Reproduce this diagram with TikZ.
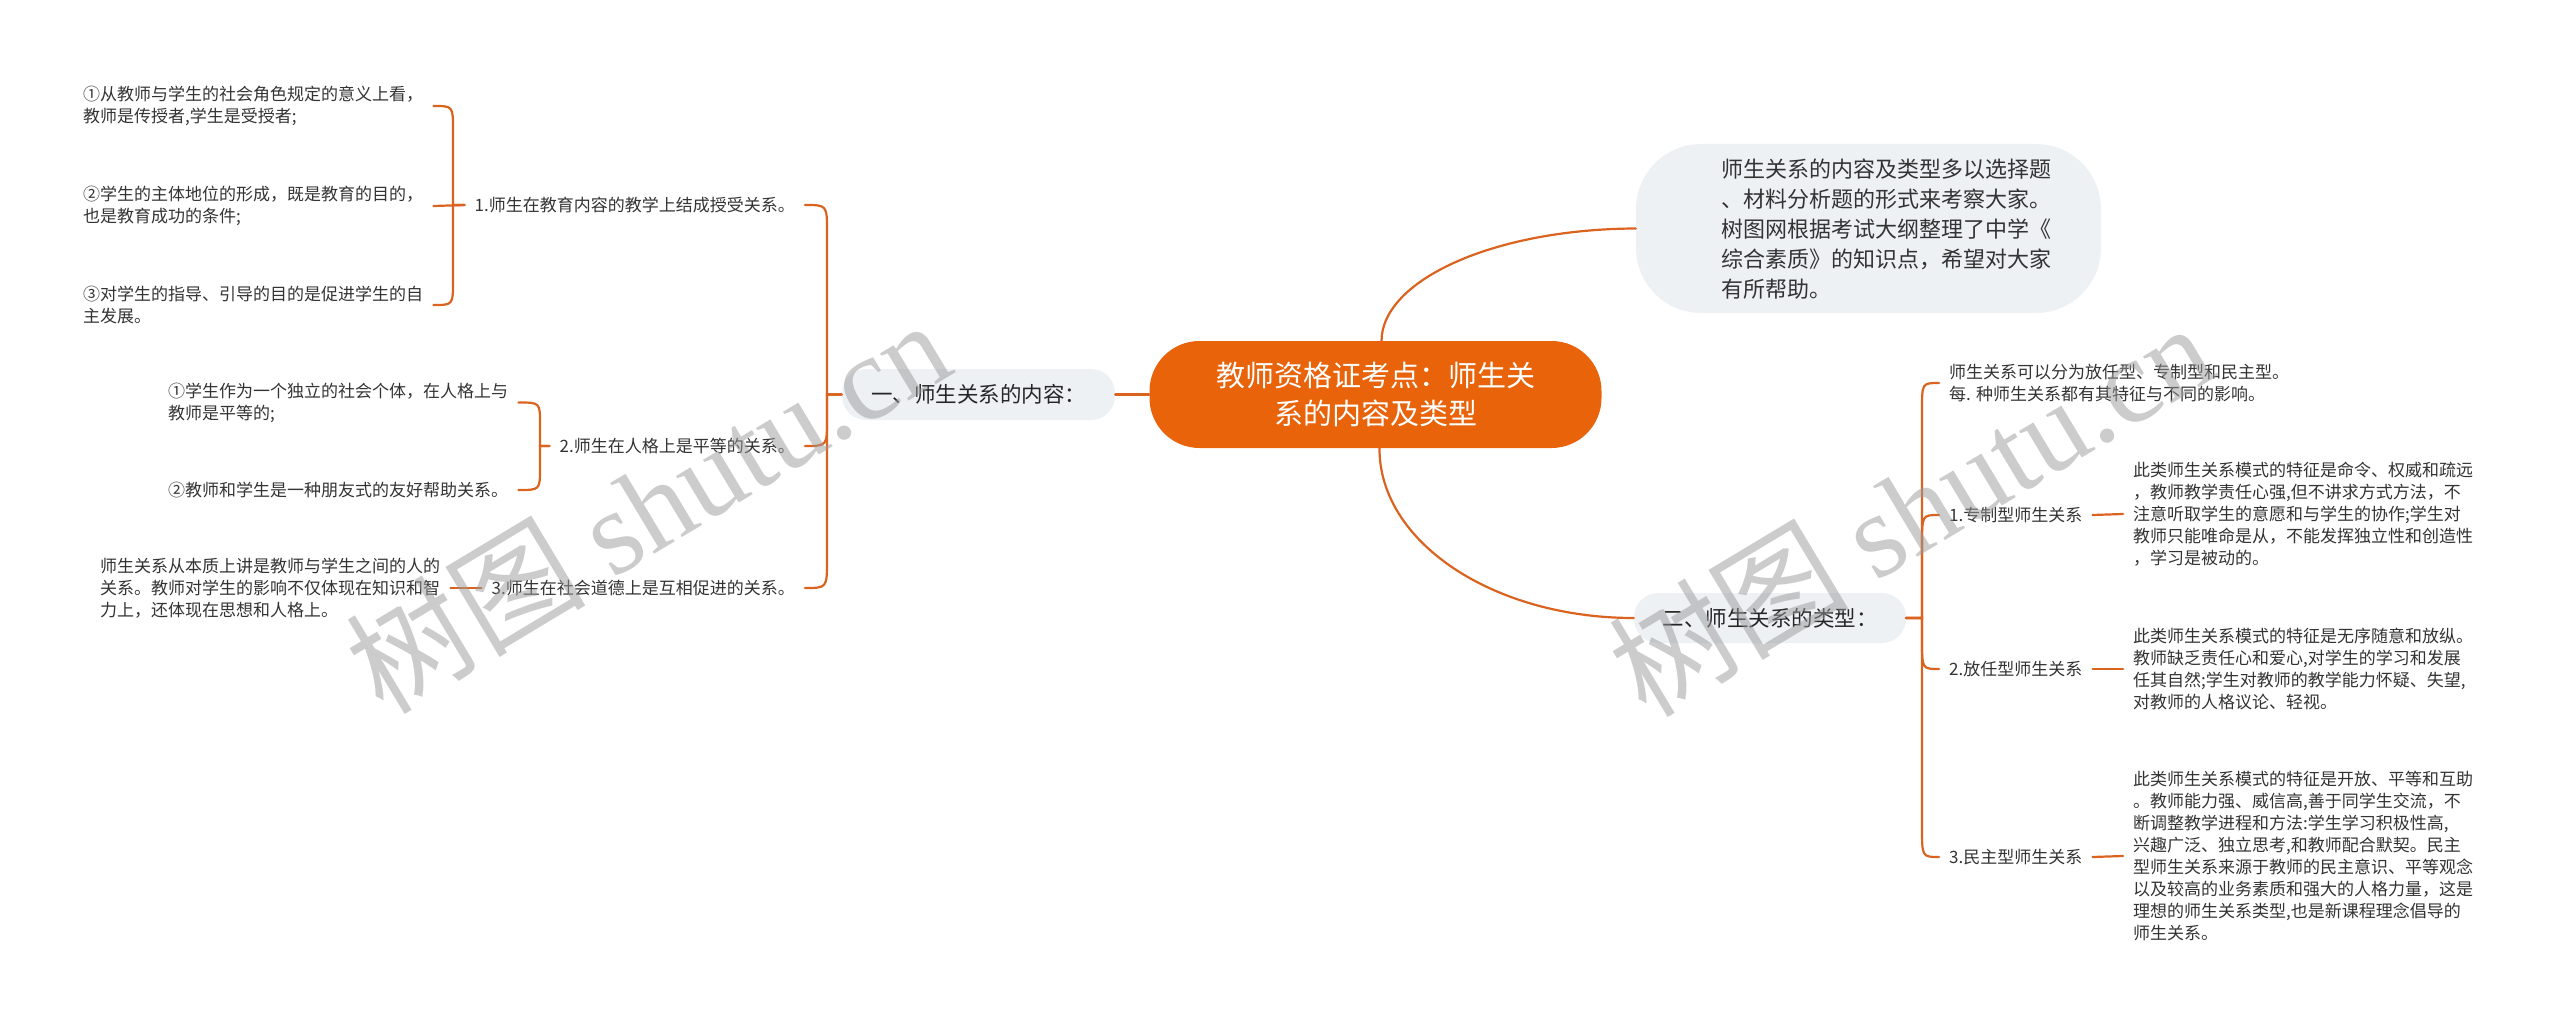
\documentclass[tikz,border=0pt]{standalone}
\usepackage{fontspec}
\setmainfont{Noto Sans CJK SC}
\newfontfamily\wmlatin{Liberation Serif}
\usetikzlibrary{calc}
\definecolor{orng}{HTML}{E8630A}
\definecolor{lnk}{HTML}{DB6320}
\definecolor{bub}{HTML}{EEF1F4}
\definecolor{txt}{HTML}{333333}
\begin{document}
\begin{tikzpicture}[x=1pt,y=-1pt,
  conn/.style={draw=lnk,line width=2.2pt,line cap=round},
  small/.style={font=\fontsize{17}{22}\selectfont,text=txt,align=left,inner xsep=10pt,inner ysep=2pt},
  central/.style={fill=orng,rounded corners=50pt,minimum width=452pt,minimum height=107pt,text=white,align=center,font=\fontsize{29}{38}\selectfont},
  branch/.style={fill=bub,rounded corners=24pt,minimum width=273pt,minimum height=51pt,font=\fontsize{21.5}{26}\selectfont,text=black!85},
  notebox/.style={fill=bub,rounded corners=65pt,minimum width=465pt,minimum height=169pt},
  notetext/.style={font=\fontsize{22}{30}\selectfont,text=txt,align=left,inner sep=0pt},
  wm/.style={text=black!40,text opacity=0.5,font=\fontsize{120}{120}\selectfont,inner sep=0pt}
]
\useasboundingbox (0,0) rectangle (2560,1027);

% central and branches
\node[central] (c) at (1375.5,394.5) {教师资格证考点：师生关\\系的内容及类型};
\node[notebox] (nb) at (1868.5,228.5) {};
\node[notetext] (nt) at (1886,229) {师生关系的内容及类型多以选择题\\、材料分析题的形式来考察大家。\\树图网根据考试大纲整理了中学《\\综合素质》的知识点，希望对大家\\有所帮助。};
\node[branch] (b1) at (978.5,394.5) {一、师生关系的内容：};
\node[branch,minimum width=272pt,minimum height=50pt] (b2) at (1770,618) {二、师生关系的类型：};

\draw[conn] ($(c.north)+(6,0)$) .. controls (1382,280) and (1494,229) .. (nb.west);
\draw[conn] ($(c.south)+(4,0)$) .. controls (1379,542) and (1493,618) .. (b2.west);
\draw[conn] (c.west) -- (b1.east);

% left children
\node[small,anchor=east] (L1) at (805,205) {1.师生在教育内容的教学上结成授受关系。};
\node[small,anchor=east] (L2) at (805,446) {2.师生在人格上是平等的关系。};
\node[small,anchor=east] (L3) at (805,588) {3.师生在社会道德上是互相促进的关系。};
\draw[conn] (b1.west) -- (827,394.5) -- (827,232) .. controls (827,205) .. (L1.east);
\draw[conn] (b1.west) -- (827,394.5) -- (827,420) .. controls (827,446) .. (L2.east);
\draw[conn] (b1.west) -- (827,394.5) -- (827,560) .. controls (827,588) .. (L3.east);

% grandchildren of L1
\node[small,anchor=west] (G11) at (73,106) {①从教师与学生的社会角色规定的意义上看，\\教师是传授者,学生是受授者;};
\node[small,anchor=west] (G12) at (73,206) {②学生的主体地位的形成，既是教育的目的，\\也是教育成功的条件;};
\node[small,anchor=west] (G13) at (73,305) {③对学生的指导、引导的目的是促进学生的自\\主发展。};
\draw[conn] (L1.west) -- (453,205) -- (453,130) .. controls (453,106) .. (G11.east);
\draw[conn] (L1.west) -- (G12.east);
\draw[conn] (L1.west) -- (453,205) -- (453,281) .. controls (453,305) .. (G13.east);

% grandchildren of L2
\node[small,anchor=west] (G21) at (158,402.5) {①学生作为一个独立的社会个体，在人格上与\\教师是平等的;};
\node[small,anchor=west] (G22) at (158,490) {②教师和学生是一种朋友式的友好帮助关系。};
\draw[conn] (L2.west) -- (540,446) -- (540,424) .. controls (540,402.5) .. (G21.east);
\draw[conn] (L2.west) -- (540,446) -- (540,468) .. controls (540,490) .. (G22.east);

% grandchild of L3
\node[small,anchor=west] (G31) at (90,588) {师生关系从本质上讲是教师与学生之间的人的\\关系。教师对学生的影响不仅体现在知识和智\\力上，还体现在思想和人格上。};
\draw[conn] (G31.east) -- (L3.west);

% right children
\node[small,anchor=west] (R0) at (1939,383) {师生关系可以分为放任型、专制型和民主型。\\每. 种师生关系都有其特征与不同的影响。};
\node[small,anchor=west] (R1) at (1939,515) {1.专制型师生关系};
\node[small,anchor=west] (R2) at (1939,669) {2.放任型师生关系};
\node[small,anchor=west] (R3) at (1939,857) {3.民主型师生关系};
\draw[conn] (b2.east) -- (1922,618) -- (1922,410) .. controls (1922,383) .. (R0.west);
\draw[conn] (b2.east) -- (1922,618) -- (1922,545) .. controls (1922,515) .. (R1.west);
\draw[conn] (b2.east) -- (1922,618) -- (1922,640) .. controls (1922,669) .. (R2.west);
\draw[conn] (b2.east) -- (1922,618) -- (1922,827) .. controls (1922,857) .. (R3.west);

% right grandchildren
\node[small,anchor=west] (D1) at (2123,514) {此类师生关系模式的特征是命令、权威和疏远\\，教师教学责任心强,但不讲求方式方法，不\\注意听取学生的意愿和与学生的协作;学生对\\教师只能唯命是从，不能发挥独立性和创造性\\，学习是被动的。};
\node[small,anchor=west] (D2) at (2123,669) {此类师生关系模式的特征是无序随意和放纵。\\教师缺乏责任心和爱心,对学生的学习和发展\\任其自然;学生对教师的教学能力怀疑、失望,\\对教师的人格议论、轻视。};
\node[small,anchor=west] (D3) at (2123,856) {此类师生关系模式的特征是开放、平等和互助\\。教师能力强、威信高,善于同学生交流，不\\断调整教学进程和方法:学生学习积极性高,\\兴趣广泛、独立思考,和教师配合默契。民主\\型师生关系来源于教师的民主意识、平等观念\\以及较高的业务素质和强大的人格力量，这是\\理想的师生关系类型,也是新课程理念倡导的\\师生关系。};
\draw[conn] (R1.east) -- (D1.west);
\draw[conn] (R2.east) -- (D2.west);
\draw[conn] (R3.east) -- (D3.west);

% watermarks
\node[wm,rotate=31] (wm1) at (647,505) {树图 {\wmlatin shutu.cn}};
\node[wm,rotate=31] (wm2) at (1910,508) {树图 {\wmlatin shutu.cn}};
\end{tikzpicture}
\end{document}
